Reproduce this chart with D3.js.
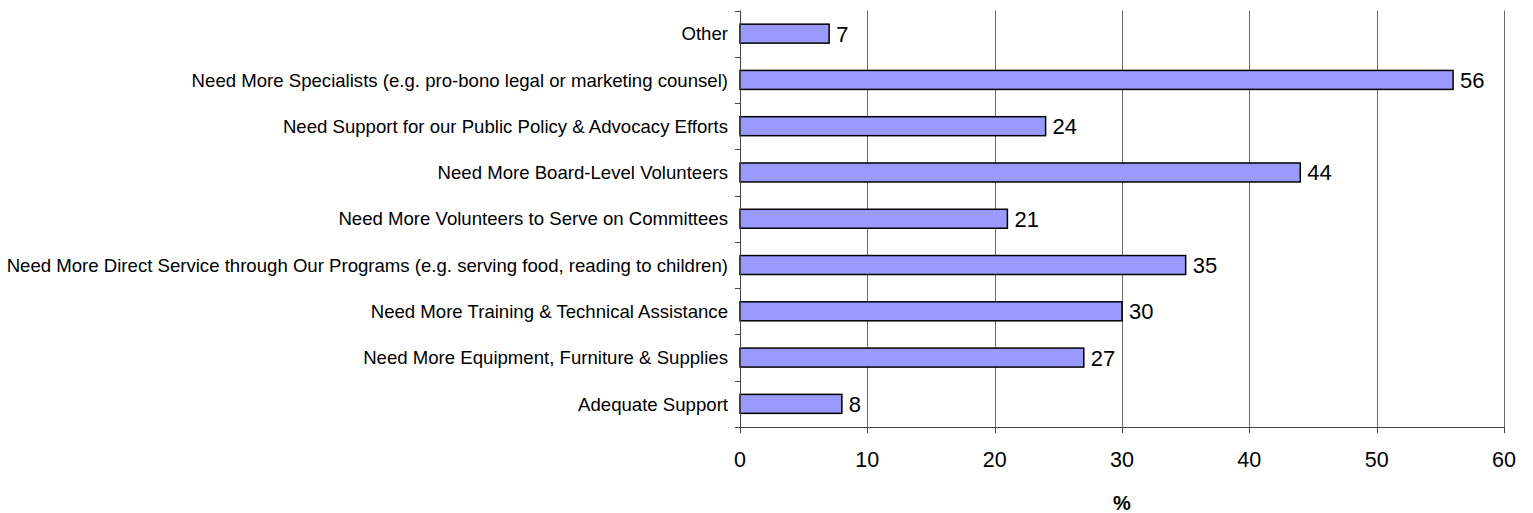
<!DOCTYPE html>
<html>
<head>
<meta charset="utf-8">
<script src="https://cdn.jsdelivr.net/npm/d3@7"></script>
<style>
	body { margin: 0; background: #fff; }
	svg text { font-family: "Liberation Sans", Arial, sans-serif; fill: #000; }
	.cat-label { font-size: 18.6px; }
	.val-label { font-size: 22px; }
	.tick-label { font-size: 21.5px; }
	.axis-title { font-size: 20px; font-weight: bold; }
</style>
</head>
<body>
<div id="container"></div>
<script>
// categories listed top to bottom as in the chart
var categories = [
	'Other',
	'Need More Specialists (e.g. pro-bono legal or marketing counsel)',
	'Need Support for our Public Policy & Advocacy Efforts',
	'Need More Board-Level Volunteers',
	'Need More Volunteers to Serve on Committees',
	'Need More Direct Service through Our Programs (e.g. serving food, reading to children)',
	'Need More Training & Technical Assistance',
	'Need More Equipment, Furniture & Supplies',
	'Adequate Support'
];
var values = [7, 56, 24, 44, 21, 35, 30, 27, 8];
var xTicks = [0, 10, 20, 30, 40, 50, 60];
var xTitle = '%';

var width = 1533, height = 513;
var margin = {top: 10.5, right: 29, bottom: 86, left: 740};

var svg = d3.select('#container').append('svg')
	.attr('width', width)
	.attr('height', height);

var x = d3.scaleLinear()
	.domain([0, 60])
	.range([margin.left, width - margin.right]);

var y = d3.scaleBand()
	.domain(categories)
	.range([margin.top, height - margin.bottom])
	.paddingInner(0.59)
	.paddingOuter(0.295);

var plotTop = margin.top, plotBottom = height - margin.bottom;

//grid lines
svg.append('g').selectAll('line')
	.data(xTicks.filter(d => d > 0))
	.enter().append('line')
	.attr('x1', d => Math.round(x(d)) + 0.5)
	.attr('x2', d => Math.round(x(d)) + 0.5)
	.attr('y1', plotTop)
	.attr('y2', plotBottom)
	.attr('stroke', '#6b6b6b')
	.attr('stroke-width', 1);

//bars
svg.append('g').selectAll('rect')
	.data(values)
	.enter().append('rect')
	.attr('x', x(0))
	.attr('y', (d, i) => y(categories[i]))
	.attr('width', d => x(d) - x(0))
	.attr('height', y.bandwidth())
	.attr('fill', '#9999ff')
	.attr('stroke', '#000')
	.attr('stroke-width', 1.5);

//value labels
svg.append('g').selectAll('text')
	.data(values)
	.enter().append('text')
	.attr('class', 'val-label')
	.attr('x', d => x(d) + 7)
	.attr('y', (d, i) => y(categories[i]) + y.bandwidth() / 2)
	.attr('dy', '0.36em')
	.text(d => d);

//y axis: line plus ticks at band boundaries
var step = y.step();
var boundaries = d3.range(categories.length + 1).map(i => plotTop + i * step);

var yAxis = svg.append('g');
yAxis.append('line')
	.attr('x1', x(0) + 0.5).attr('x2', x(0) + 0.5)
	.attr('y1', plotTop).attr('y2', plotBottom)
	.attr('stroke', '#444');
yAxis.selectAll('.ytick')
	.data(boundaries)
	.enter().append('line')
	.attr('class', 'ytick')
	.attr('x1', x(0) - 5).attr('x2', x(0) + 0.5)
	.attr('y1', d => Math.round(d) + 0.5)
	.attr('y2', d => Math.round(d) + 0.5)
	.attr('stroke', '#444');

yAxis.selectAll('.cat-label')
	.data(categories)
	.enter().append('text')
	.attr('class', 'cat-label')
	.attr('x', x(0) - 12)
	.attr('y', d => y(d) + y.bandwidth() / 2)
	.attr('dy', '0.36em')
	.style('text-anchor', 'end')
	.text(d => d);

//x axis
var xAxis = svg.append('g');
xAxis.append('line')
	.attr('x1', x(0) - 5).attr('x2', x(60) + 0.5)
	.attr('y1', Math.round(plotBottom) + 0.5)
	.attr('y2', Math.round(plotBottom) + 0.5)
	.attr('stroke', '#444');
xAxis.selectAll('.xtick')
	.data(xTicks)
	.enter().append('line')
	.attr('class', 'xtick')
	.attr('x1', d => Math.round(x(d)) + 0.5)
	.attr('x2', d => Math.round(x(d)) + 0.5)
	.attr('y1', plotBottom)
	.attr('y2', plotBottom + 6)
	.attr('stroke', '#444');
xAxis.selectAll('.tick-label')
	.data(xTicks)
	.enter().append('text')
	.attr('class', 'tick-label')
	.attr('x', d => x(d))
	.attr('y', plotBottom + 32)
	.attr('dy', '0.36em')
	.style('text-anchor', 'middle')
	.text(d => d);

svg.append('text')
	.attr('class', 'axis-title')
	.attr('x', (x(0) + x(60)) / 2)
	.attr('y', plotBottom + 76)
	.attr('dy', '0.36em')
	.style('text-anchor', 'middle')
	.text(xTitle);
</script>
</body>
</html>
